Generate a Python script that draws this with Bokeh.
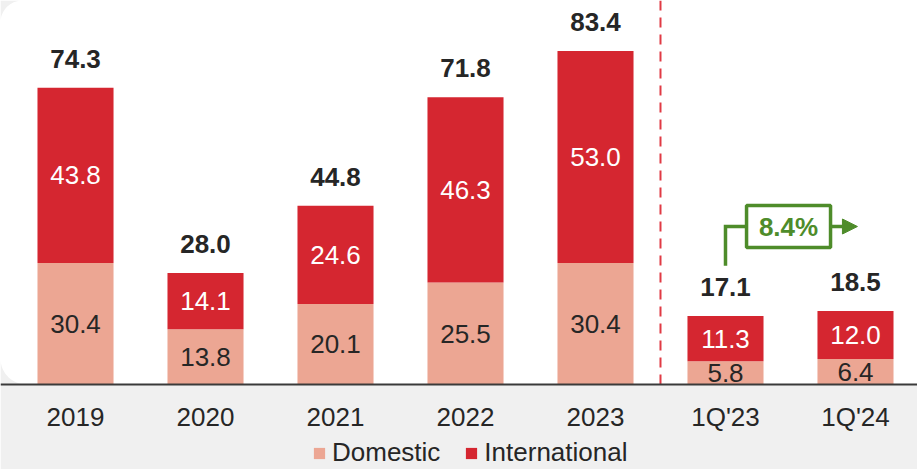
import numpy as np
from bokeh.plotting import figure
from bokeh.models import (ColumnDataSource, FixedTicker, Legend, LegendItem,
                          Arrow, NormalHead, LinearAxis, BoxAnnotation)
from bokeh.core.properties import value
from bokeh.embed import file_html
from bokeh.resources import INLINE

categories = ["2019", "2020", "2021", "2022", "2023", "1Q'23", "1Q'24"]
domestic = [30.4, 13.8, 20.1, 25.5, 30.4, 5.8, 6.4]
international = [43.8, 14.1, 24.6, 46.3, 53.0, 11.3, 12.0]
totals = [74.3, 28.0, 44.8, 71.8, 83.4, 17.1, 18.5]
growth_label = "8.4%"

DOM_COLOR = "#eca693"
INT_COLOR = "#d52630"
TEXT_DARK = "#262626"
GREEN = "#4e8c2a"
BG_GRAY = "#f0f0f0"
FONT = "Liberation Sans"

X0, X1 = -0.577, 6.477
Y0, Y1 = -21.25, 96
W, H = 917, 469

x = list(range(len(categories)))
stack_top = [d + i for d, i in zip(domestic, international)]
src = ColumnDataSource(dict(
    x=x,
    dom=domestic,
    top=stack_top,
    dom_mid=[d / 2 for d in domestic],
    int_mid=[d + i / 2 for d, i in zip(domestic, international)],
    dom_lbl=[f"{v:.1f}" for v in domestic],
    int_lbl=[f"{v:.1f}" for v in international],
    tot_lbl=[f"{v:.1f}" for v in totals],
))

p = figure(frame_width=W, frame_height=H,
           x_range=(X0, X1), y_range=(Y0, Y1),
           x_axis_location=None, y_axis_location=None,
           output_backend="svg", toolbar_location=None,
           background_fill_color="white", border_fill_color=BG_GRAY,
           min_border_left=0, min_border_right=0, min_border_top=0, min_border_bottom=0)
p.outline_line_color = None
p.grid.visible = False

# gray band under the baseline
p.add_layout(BoxAnnotation(top=0, fill_color=BG_GRAY, fill_alpha=1, line_color=None,
                           level="underlay"))

# rounded corners of the white panel (decoration, pixel -> data)
def px(u):
    return X0 + u * (X1 - X0) / W

def py(v):
    return Y1 - v * (Y1 - Y0) / H

base_px = (Y1 - 0) * H / (Y1 - Y0)
r_top, r_bot = 22, 26
th = np.linspace(np.pi / 2, np.pi, 20)
p.patch(x=[px(0)] + [px(r_top + r_top * np.cos(t)) for t in th],
        y=[py(0)] + [py(r_top - r_top * np.sin(t)) for t in th],
        fill_color=BG_GRAY, line_color=None)
th2 = np.linspace(np.pi, 1.5 * np.pi, 20)
p.patch(x=[px(0)] + [px(r_bot + r_bot * np.cos(t)) for t in th2],
        y=[py(base_px)] + [py(base_px - r_bot - r_bot * np.sin(t)) for t in th2],
        fill_color=BG_GRAY, line_color=None)

BAR_W = 0.585
r_dom = p.vbar(x="x", bottom=0, top="dom", width=BAR_W, fill_color=DOM_COLOR,
               line_color=None, source=src)
r_int = p.vbar(x="x", bottom="dom", top="top", width=BAR_W, fill_color=INT_COLOR,
               line_color=None, source=src)

p.text(x="x", y="dom_mid", text="dom_lbl", source=src, text_font=value(FONT),
       text_font_size="26px", text_color=TEXT_DARK, text_align="center",
       text_baseline="middle")
p.text(x="x", y="int_mid", text="int_lbl", source=src, text_font=value(FONT),
       text_font_size="26px", text_color="white", text_align="center",
       text_baseline="middle")
p.text(x="x", y="top", text="tot_lbl", source=src, text_font=value(FONT),
       text_font_size="26px", text_font_style="bold", text_color=TEXT_DARK,
       text_align="center", text_baseline="bottom", y_offset=-20)

# separator between annual and quarterly
sep_x = (x[4] + x[5]) / 2
p.line(x=[sep_x, sep_x], y=[0, Y1], line_color="#e03a44", line_width=2,
       line_dash="10 7")

# growth annotation
ax = x[5]
gy = 39.5
p.line(x=[ax, ax, ax + 0.162], y=[totals[5] + 12.6, gy, gy], line_color=GREEN,
       line_width=3.5, line_join="miter")
p.rect(x=[ax + 0.485], y=[gy], width=0.646, height=10.5, fill_color="white",
       line_color=GREEN, line_width=3.5)
p.text(x=[ax + 0.485], y=[gy], text=[growth_label], text_font=value(FONT),
       text_font_size="26px", text_font_style="bold", text_color=GREEN,
       text_align="center", text_baseline="middle")
p.add_layout(Arrow(x_start=ax + 0.808, y_start=gy, x_end=ax + 1.015, y_end=gy,
                   line_color=GREEN, line_width=3.5,
                   end=NormalHead(size=15, fill_color=GREEN, line_color=GREEN)))

xa = LinearAxis(fixed_location=0)
xa.ticker = FixedTicker(ticks=x)
xa.major_label_overrides = {i: c for i, c in zip(x, categories)}
xa.axis_line_color = "#3a3a3a"
xa.axis_line_width = 2
xa.major_tick_line_color = None
xa.minor_tick_line_color = None
xa.major_tick_out = 0
xa.major_tick_in = 0
xa.minor_tick_out = 0
xa.minor_tick_in = 0
xa.major_label_text_font = FONT
xa.major_label_text_font_size = "26px"
xa.major_label_text_color = TEXT_DARK
xa.major_label_standoff = 17
p.add_layout(xa, "below")

legend = Legend(items=[LegendItem(label="Domestic", renderers=[r_dom]),
                       LegendItem(label="International", renderers=[r_int])],
                orientation="horizontal", location=(312, 1),
                glyph_width=14, glyph_height=14, label_standoff=6, spacing=24,
                padding=0, margin=0, label_height=14, border_line_color=None,
                background_fill_color=BG_GRAY, background_fill_alpha=0,
                label_text_font=FONT, label_text_font_size="26px",
                label_text_color=TEXT_DARK)
p.add_layout(legend)

open("out.html", "w").write(file_html(p, INLINE))
